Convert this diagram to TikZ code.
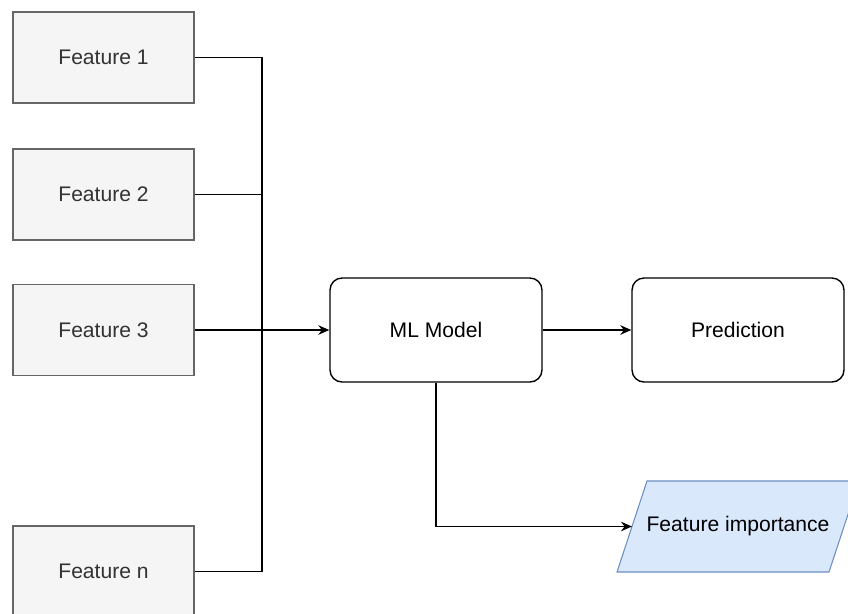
\documentclass[tikz,border=0pt]{standalone}
\usepackage{fontspec}
\setmainfont{Liberation Sans}
\usepackage{xcolor}
\usetikzlibrary{
    arrows.meta,
    calc,
    positioning
}
\definecolor{featfill}{HTML}{F5F5F5}
\definecolor{featline}{HTML}{666666}
\definecolor{feattext}{HTML}{333333}
\definecolor{impfill}{HTML}{DAE8FC}
\definecolor{impline}{HTML}{6C8EBF}

\tikzset{
    feature/.style={draw=featline, fill=featfill, text=feattext, line width=0.6pt,
        minimum width=3.62cm, minimum height=1.82cm},
    model/.style={draw, rounded corners=0.24cm, line width=0.8pt,
        minimum width=4.24cm, minimum height=2.08cm},
    link/.style={line width=0.8pt},
    arr/.style={link, -{Stealth[length=2.2mm, width=1.9mm]}}
}

\begin{document}
\begin{tikzpicture}[x=0.02cm, y=-0.02cm, font=\fontsize{12}{14}\selectfont]
                            \useasboundingbox (0, 0) rectangle (848, 613);
                            \clip (0, 0) rectangle (848, 613);
                            \foreach \name/\lab/\y in {f1/1/57.5, f2/2/194.5, f3/3/330, fn/n/571.5} {
                                \node[feature] (\name) at (103.5, \y) {Feature \lab};
                            }
                            \node[model] (ml) at (436, 330) {ML Model};
                            \node[model] (pred) at (738, 330) {Prediction};
                            \draw[draw=impline, fill=impfill, line width=0.6pt]
                            (617, 572) -- (647, 481) -- (859, 481) -- (829, 572) -- cycle;
                            \node (imp) at (738, 526.5) {Feature importance};
                            \coordinate (impin) at (632, 526.5);
                            \coordinate (bustop) at (262, 57.5);
                            \coordinate (busbot) at (262, 571.5);
                            \draw[link] (f1.east) -- (bustop) -- (busbot) -- (fn.east);
                            \draw[link] (f2.east) -- (f2.east -| bustop);
                            \draw[arr] (f3.east) -- (ml.west);
                            \draw[arr] (ml.east) -- (pred.west);
                            \draw[arr] (ml.south) |- (impin);
                        \end{tikzpicture}
\end{document}
